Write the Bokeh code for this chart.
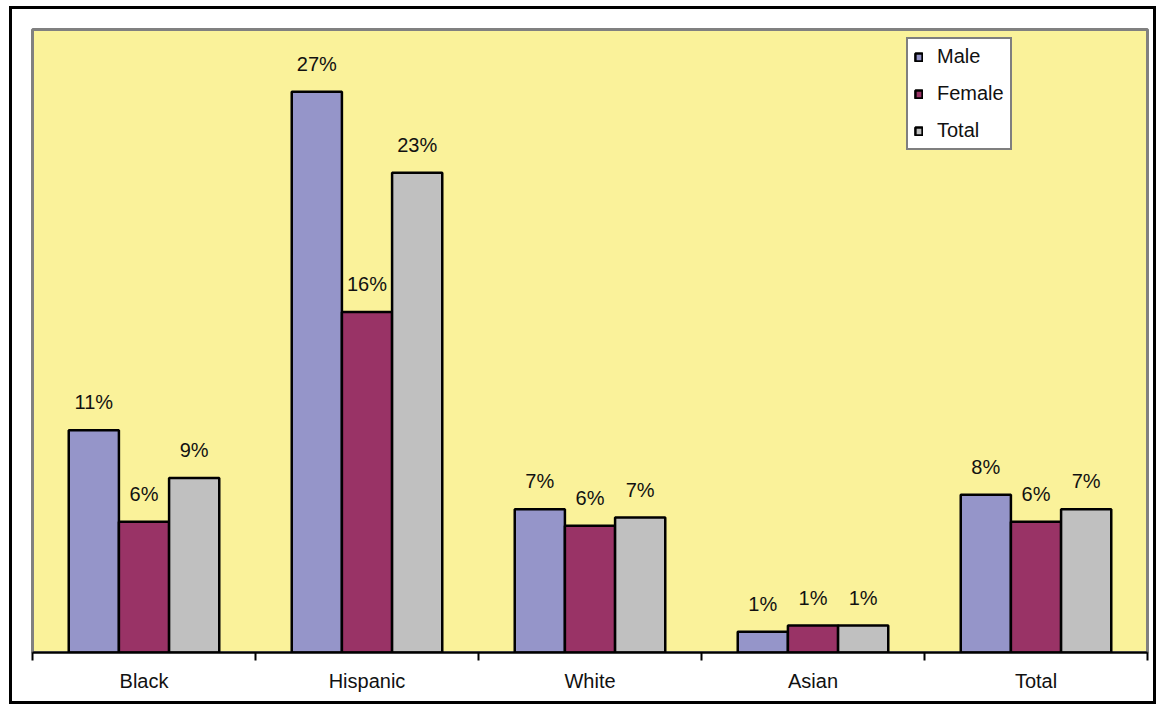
from bokeh.plotting import figure
from bokeh.models import Range1d, FixedTicker, ColumnDataSource, Legend, LegendItem
from bokeh.core.properties import value
from bokeh.embed import file_html
from bokeh.resources import INLINE

categories = ["Black", "Hispanic", "White", "Asian", "Total"]
series = ["Male", "Female", "Total"]
male = [10.7, 27.0, 6.9, 1.0, 7.6]
female = [6.3, 16.4, 6.1, 1.3, 6.3]
total = [8.4, 23.1, 6.5, 1.3, 6.9]
male_labels = ["11%", "27%", "7%", "1%", "8%"]
female_labels = ["6%", "16%", "6%", "1%", "6%"]
total_labels = ["9%", "23%", "7%", "1%", "7%"]
colors = ["#9595C9", "#993366", "#C0C0C0"]

FONT = "Liberation Sans"

p = figure(width=1147, height=698, output_backend="svg", toolbar_location=None,
           x_range=Range1d(0, 5), y_range=Range1d(0, 30),
           min_border_left=20, min_border_right=12, min_border_top=20, min_border_bottom=55)
p.styles = {"border": "3px solid black", "margin-left": "9px", "margin-top": "6px"}
p.background_fill_color = "#FAF29A"
p.border_fill_color = "white"
p.outline_line_color = "#808080"
p.outline_line_width = 3
p.grid.visible = False
p.yaxis.visible = False

centers = [i + 0.5 for i in range(len(categories))]
offsets = [-0.225, 0.0, 0.225]
data_sets = [male, female, total]
label_sets = [male_labels, female_labels, total_labels]

renderers = []
for vals, labs, col, off in zip(data_sets, label_sets, colors, offsets):
    xs = [c + off for c in centers]
    src = ColumnDataSource(dict(x=xs, top=vals, lab=labs))
    r = p.vbar(x="x", top="top", width=0.225, bottom=0, source=src,
               fill_color=col, line_color="black", line_width=2.5)
    renderers.append(r)
    p.text(x="x", y="top", text="lab", source=src, text_align="center",
           text_baseline="middle", y_offset=-28, text_font=value(FONT),
           text_font_size="20px", text_color="#111111")

ax = p.xaxis[0]
ax.ticker = FixedTicker(ticks=centers, minor_ticks=list(range(0, 6)))
ax.major_label_overrides = {c: n for c, n in zip(centers, categories)}
ax.major_tick_out = 0
ax.major_tick_in = 0
ax.minor_tick_out = 8
ax.minor_tick_in = 0
ax.minor_tick_line_color = "black"
ax.minor_tick_line_width = 2
ax.axis_line_color = "black"
ax.axis_line_width = 2
ax.major_label_text_font = FONT
ax.major_label_text_font_size = "20px"
ax.major_label_text_color = "#111111"
ax.major_label_standoff = 9

legend = Legend(items=[LegendItem(label=s, renderers=[r]) for s, r in zip(series, renderers)],
                location=(874, 502))
legend.label_text_font = FONT
legend.label_text_font_size = "20px"
legend.label_text_color = "#111111"
legend.glyph_width = 9
legend.glyph_height = 10
legend.label_height = 22
legend.spacing = 14
legend.padding = 6
legend.margin = 0
legend.border_line_color = "black"
legend.border_line_width = 2
legend.background_fill_color = "white"
legend.background_fill_alpha = 1
legend.label_standoff = 14
p.add_layout(legend)

open("out.html", "w").write(file_html(p, INLINE))
